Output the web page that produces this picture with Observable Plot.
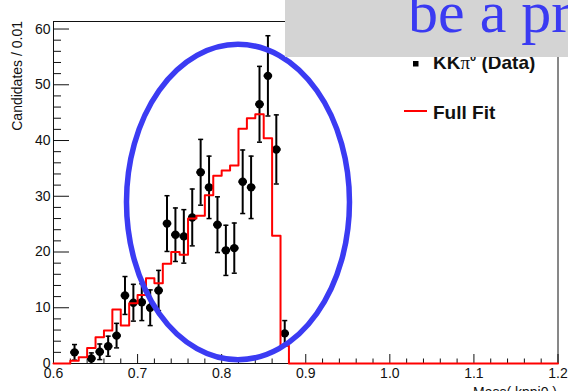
<!DOCTYPE html>
<html>
<head>
<meta charset="utf-8">
<script src="https://cdn.jsdelivr.net/npm/d3@7"></script>
<script src="https://cdn.jsdelivr.net/npm/@observablehq/plot@0.6"></script>
<style>
  html, body { margin: 0; padding: 0; background: white; overflow: hidden; }
  #chart svg { display: block; overflow: visible; }
</style>
</head>
<body>
<div id="chart"></div>
<script>
// ---- data ----
const massCenters = [0.625,0.645,0.655,0.665,0.675,0.685,0.695,0.705,0.715,0.725,0.735,0.745,0.755,0.765,0.775,0.785,0.795,0.805,0.815,0.825,0.835,0.845,0.855,0.865,0.875];
const counts      = [2.0,0.9,2.1,3.1,5.0,12.2,10.9,11.0,10.0,13.1,25.1,23.1,22.8,26.2,34.3,31.6,24.9,20.3,20.7,32.6,31.6,46.5,51.6,38.4,5.4];
const errors      = [1.4,1.0,1.4,1.8,2.2,3.4,3.3,3.3,3.2,3.6,5.0,4.8,4.8,5.1,5.9,5.6,5.0,4.5,4.5,5.7,5.6,6.8,7.2,6.2,2.3];
const binHalfWidth = 0.005;

const fitEdges  = [0.60,0.61,0.62,0.63,0.64,0.65,0.66,0.67,0.68,0.69,0.70,0.71,0.72,0.73,0.74,0.75,0.76,0.77,0.78,0.79,0.80,0.81,0.82,0.83,0.84,0.85,0.86,0.87,0.88,1.20];
const fitValues = [0,0,0.5,1.1,2.8,4.7,5.9,9.7,6.8,10.8,12.3,15.3,14.4,17.9,20.0,19.5,26.0,26.5,30.2,33.7,34.6,35.5,42.1,44.0,44.7,40.4,22.9,3.2,0,0];

const xMajorTicks = [0.6,0.7,0.8,0.9,1.0,1.1,1.2];
const xMinorTicks = [0.62,0.64,0.66,0.68,0.72,0.74,0.76,0.78,0.82,0.84,0.86,0.88,0.92,0.94,0.96,0.98,1.02,1.04,1.06,1.08,1.12,1.14,1.16,1.18];
const yMajorTicks = [0,10,20,30,40,50,60];
const yMinorTicks = [2,4,6,8,12,14,16,18,22,24,26,28,32,34,36,38,42,44,46,48,52,54,56,58];

const yTitle = "Candidates / 0.01";
const xTitle = "Mass( kppi0 )";
const legendData = "KK";
const legendFit = "Full Fit";
const overlayText = "be a pr";

// annotation ellipse in data units
const ellipseAnn = {cx: 0.820, cy: 28.88, rx: 0.1326, ry: 28.29};

const points = massCenters.map((m, i) => ({x: m, y: counts[i], e: errors[i]}));
const fit = fitEdges.map((m, i) => ({x: m, y: fitValues[i]}));

const plot = Plot.plot({
  width: 568,
  height: 391,
  marginLeft: 53,
  marginRight: 10.5,
  marginTop: 21,
  marginBottom: 28,
  x: {domain: [0.6, 1.2]},
  y: {domain: [0, 61.35]},
  style: {fontFamily: "'Liberation Sans', Arial, sans-serif", fontSize: "14px", color: "#111", background: "white"},
  marks: [
    Plot.frame({stroke: "#111", strokeWidth: 1}),
    // x ticks (inside the frame)
    Plot.axisX(xMajorTicks, {tickSize: 9, dy: -9, tickFormat: () => "", label: null, stroke: "#111"}),
    Plot.axisX(xMinorTicks, {tickSize: 4.5, dy: -4.5, tickFormat: () => "", label: null, stroke: "#111"}),
    Plot.axisX(xMajorTicks, {tickSize: 0, tickPadding: 5, tickFormat: d3.format(".1f"), label: null, fill: "#111"}),
    // y ticks (inside the frame)
    Plot.axisY(yMajorTicks, {tickSize: 16, dx: 16, tickFormat: () => "", label: null, stroke: "#111"}),
    Plot.axisY(yMinorTicks, {tickSize: 8, dx: 8, tickFormat: () => "", label: null, stroke: "#111"}),
    Plot.axisY(yMajorTicks, {tickSize: 0, tickPadding: 3, tickFormat: d3.format("d"), label: null, fill: "#111"}),
    // data error bars
    Plot.ruleX(points, {x: "x", y1: d => Math.max(0, d.y - d.e), y2: d => d.y + d.e, stroke: "black", strokeWidth: 2}),
    Plot.link(points, {x1: d => d.x - 0.003, x2: d => d.x + 0.003, y1: d => d.y + d.e, y2: d => d.y + d.e, stroke: "black", strokeWidth: 1.5}),
    Plot.link(points.filter(d => d.y - d.e > 0), {x1: d => d.x - 0.003, x2: d => d.x + 0.003, y1: d => d.y - d.e, y2: d => d.y - d.e, stroke: "black", strokeWidth: 1.5}),
    Plot.link(points, {x1: d => d.x - binHalfWidth, x2: d => d.x + binHalfWidth, y1: "y", y2: "y", stroke: "black", strokeWidth: 2.5}),
    Plot.dot(points, {x: "x", y: "y", r: 4.2, fill: "black", stroke: "none"}),
    // fit histogram
    Plot.line(fit, {x: "x", y: "y", curve: "step-after", stroke: "#ff0000", strokeWidth: 2})
  ]
});

document.getElementById("chart").appendChild(plot);

const svg = d3.select(plot);
const xs = plot.scale("x"), ys = plot.scale("y");

// y axis title
svg.append("text")
  .attr("transform", "translate(21.5,21) rotate(-90)")
  .attr("text-anchor", "end")
  .attr("font-family", "'Liberation Sans', Arial, sans-serif")
  .attr("font-size", 14)
  .attr("fill", "#111")
  .text(yTitle);

// x axis title (cut by the bottom of the image)
svg.append("text")
  .attr("x", 557).attr("y", 397)
  .attr("text-anchor", "end")
  .attr("font-family", "'Liberation Sans', Arial, sans-serif")
  .attr("font-size", 14)
  .attr("fill", "#111")
  .text(xTitle);

// annotation ellipse
const ecx = xs.apply(ellipseAnn.cx), ecy = ys.apply(ellipseAnn.cy);
svg.append("ellipse")
  .attr("cx", ecx).attr("cy", ecy)
  .attr("rx", xs.apply(ellipseAnn.cx + ellipseAnn.rx) - ecx)
  .attr("ry", ecy - ys.apply(ellipseAnn.cy + ellipseAnn.ry))
  .attr("fill", "none")
  .attr("stroke", "#3b3bf3")
  .attr("stroke-width", 5.5);

// legend
const lg = svg.append("g")
  .attr("font-family", "'Liberation Sans', Arial, sans-serif")
  .attr("font-weight", "bold")
  .attr("font-size", 19)
  .attr("text-anchor", "start")
  .attr("fill", "#111");
lg.append("rect").attr("x", 413).attr("y", 61).attr("width", 5.5).attr("height", 5.5).attr("fill", "black");
const t1 = lg.append("text").attr("x", 433).attr("y", 69).attr("text-anchor", "start");
t1.append("tspan").text(legendData);
t1.append("tspan").attr("font-family", "'Liberation Serif', serif").attr("font-weight", "normal").text("π");
t1.append("tspan").attr("font-size", 11).attr("dy", -8).text("0");
t1.append("tspan").attr("dy", 8).text(" (Data)");
lg.append("line").attr("x1", 404).attr("x2", 427).attr("y1", 111).attr("y2", 111).attr("stroke", "#ff0000").attr("stroke-width", 2);
lg.append("text").attr("x", 433).attr("y", 119).attr("text-anchor", "start").text(legendFit);

// overlay box with slide text
svg.append("rect").attr("x", 285).attr("y", 0).attr("width", 283).attr("height", 57).attr("fill", "#d4d4d4");
svg.append("text")
  .attr("x", 408).attr("y", 32)
  .attr("text-anchor", "start")
  .attr("font-family", "'Liberation Serif', 'Times New Roman', serif")
  .attr("font-size", 60)
  .attr("fill", "#3a3af2")
  .text(overlayText);
</script>
</body>
</html>
